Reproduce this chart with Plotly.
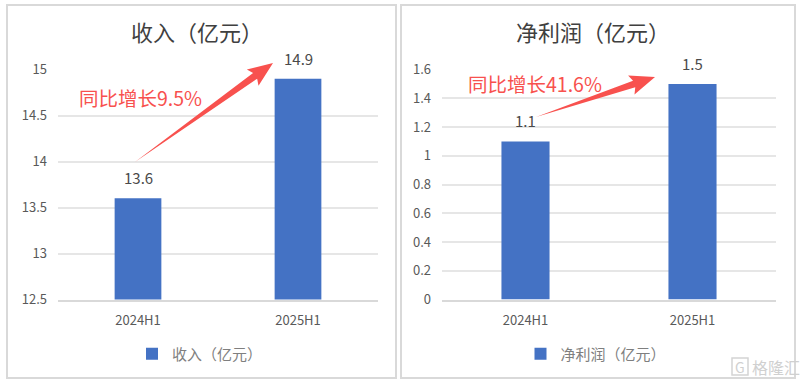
import plotly.graph_objects as go

W, H = 806, 384
FONT = "Noto Sans CJK SC"
BLUE = "#4472C4"
RED = "#F8514E"

periods = ["2024H1", "2025H1"]
revenue = [13.6, 14.9]
profit = [1.1, 1.5]
revenue_ticks = [12.5, 13, 13.5, 14, 14.5, 15]
revenue_ticktext = ["12.5", "13", "13.5", "14", "14.5", "15"]
profit_ticks = [0, 0.2, 0.4, 0.6, 0.8, 1, 1.2, 1.4, 1.6]
profit_ticktext = ["0", "0.2", "0.4", "0.6", "0.8", "1", "1.2", "1.4", "1.6"]
revenue_title = "收入（亿元）"
profit_title = "净利润（亿元）"
revenue_note = "同比增长9.5%"
profit_note = "同比增长41.6%"


def px(x):
    return x / W


def py(y):
    return 1 - y / H


def arrow_path(x0, y0, x1, y1, head=22, head_half=10, neck_half=3.5):
    dx, dy = x1 - x0, y1 - y0
    n = (dx * dx + dy * dy) ** 0.5
    ux, uy = dx / n, dy / n
    vx, vy = -uy, ux
    bx, by = x1 - ux * head, y1 - uy * head
    pts = [
        (x0, y0),
        (bx + vx * neck_half, by + vy * neck_half),
        (bx + vx * head_half - ux * 3, by + vy * head_half - uy * 3),
        (x1, y1),
        (bx - vx * head_half - ux * 3, by - vy * head_half - uy * 3),
        (bx - vx * neck_half, by - vy * neck_half),
    ]
    return "M " + " L ".join(f"{px(a):.5f},{py(b):.5f}" for a, b in pts) + " Z"


def label(x, y, text, size, color):
    return dict(xref="paper", yref="paper", x=px(x), y=py(y), text=text, showarrow=False,
                xanchor="center", yanchor="middle",
                font=dict(family=FONT, size=size, color=color))


fig = go.Figure()
fig.add_bar(x=periods, y=revenue, name=revenue_title, marker_color=BLUE, marker_line_width=0, width=0.292,
            xaxis="x", yaxis="y", legend="legend")
fig.add_bar(x=periods, y=profit, name=profit_title, marker_color=BLUE, marker_line_width=0, width=0.288,
            xaxis="x2", yaxis="y2", legend="legend2")

axis_common = dict(showline=True, linecolor="#D9D9D9", linewidth=1.5, ticks="", showgrid=False,
                   tickfont=dict(family=FONT, size=13, color="#595959"), fixedrange=True,
                   automargin=False, ticklabelstandoff=8)
grid_common = dict(showline=False, showgrid=True, gridcolor="#E6E6E6", gridwidth=1.5, zeroline=False, ticks="",
                   tickfont=dict(family=FONT, size=13, color="#595959"), fixedrange=True,
                   automargin=False, ticklabelstandoff=10)

legend_common = dict(orientation="h", xanchor="center", yanchor="middle", bgcolor="rgba(0,0,0,0)",
                     font=dict(family=FONT, size=15, color="#7F7F7F"), itemwidth=30)

shapes = [
    dict(type="rect", xref="paper", yref="paper", x0=px(7), x1=px(396), y0=py(378), y1=py(5),
         line=dict(color="#D9D9D9", width=2), fillcolor="white", layer="below"),
    dict(type="rect", xref="paper", yref="paper", x0=px(401), x1=px(795), y0=py(378), y1=py(5),
         line=dict(color="#D9D9D9", width=2), fillcolor="white", layer="below"),
    dict(type="path", xref="paper", yref="paper", path=arrow_path(135, 162, 273, 63),
         fillcolor=RED, line=dict(width=0), layer="above"),
    dict(type="path", xref="paper", yref="paper", path=arrow_path(536, 117, 655, 77),
         fillcolor=RED, line=dict(width=0), layer="above"),
    dict(type="rect", xref="paper", yref="paper", x0=px(732), x1=px(748), y0=py(375), y1=py(358),
         line=dict(color="#D4D4D4", width=1.5), fillcolor="white", layer="above"),
]

annotations = [
    label(197, 31, revenue_title, 22, "#404040"),
    label(593, 31, profit_title, 22, "#404040"),
    label(140, 98, revenue_note, 19.5, RED),
    label(535, 83, profit_note, 19.5, RED),
    label(740, 367, "G", 14, "#D0D0D0"),
    label(776, 367, "格隆汇", 16, "#D0D0D0"),
]

for xa, ya, xs, ys in (("x", "y", periods, revenue), ("x2", "y2", periods, profit)):
    for cat, val in zip(xs, ys):
        annotations.append(dict(xref=xa, yref=ya, x=cat, y=val, text=str(val), showarrow=False,
                                yanchor="bottom", yshift=8,
                                font=dict(family=FONT, size=15, color="#4A4A4A")))

fig.update_layout(
    width=W, height=H, autosize=False,
    margin=dict(l=0, r=0, t=0, b=0, pad=0, autoexpand=False),
    paper_bgcolor="white", plot_bgcolor="rgba(0,0,0,0)",
    barmode="group",
    xaxis=dict(domain=[px(58), px(378)], anchor="y", **axis_common),
    yaxis=dict(domain=[py(299.5), py(69.5)], anchor="x", range=[12.5, 15],
               tickvals=revenue_ticks, ticktext=revenue_ticktext, **grid_common),
    xaxis2=dict(domain=[px(442), px(776)], anchor="y2", **axis_common),
    yaxis2=dict(domain=[py(299.5), py(69.5)], anchor="x2", range=[0, 1.6],
                tickvals=profit_ticks, ticktext=profit_ticktext, **grid_common),
    legend=dict(x=px(200), y=py(354), **legend_common),
    legend2=dict(x=px(596), y=py(354), **legend_common),
    showlegend=True,
    shapes=shapes,
    annotations=annotations,
)

fig.write_html("out.html", config={"displayModeBar": False},
               post_script="document.body.style.margin='0';document.documentElement.style.overflow='hidden';")
